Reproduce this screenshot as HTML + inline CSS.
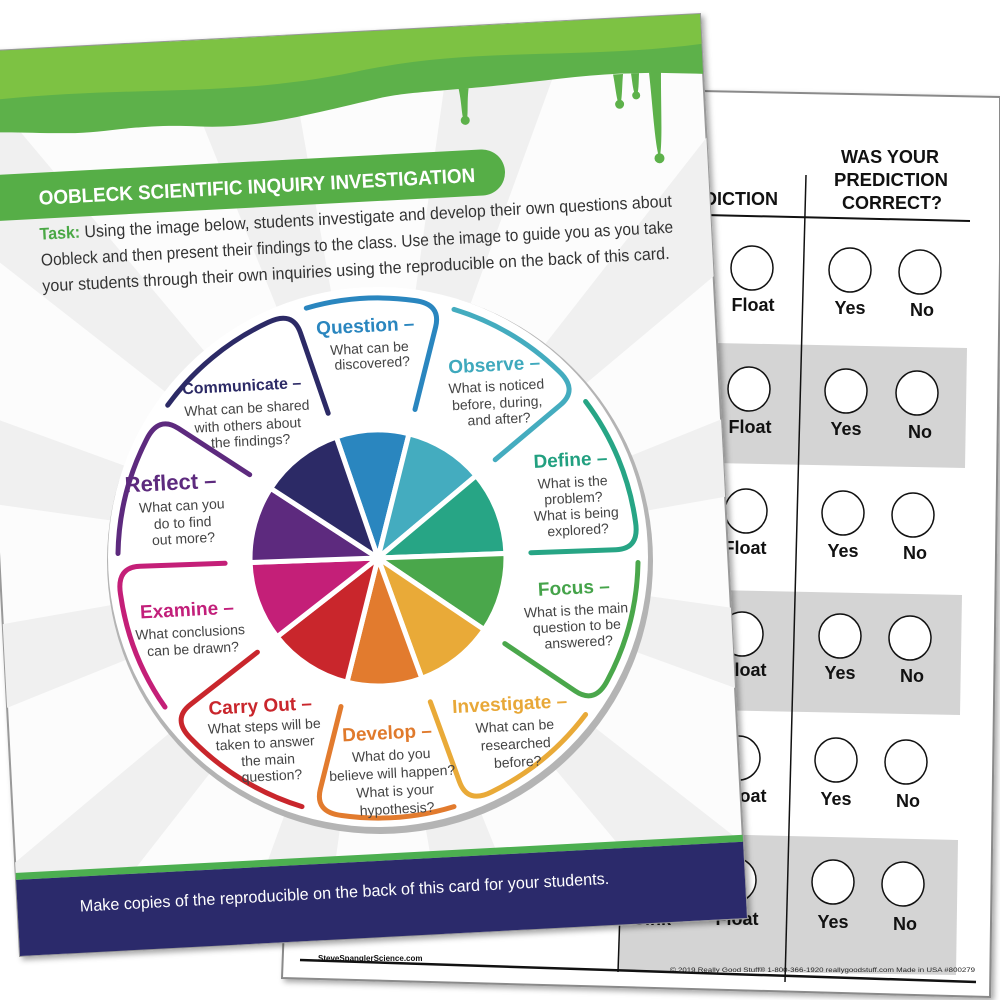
<!DOCTYPE html>
<html><head><meta charset="utf-8">
<style>
html,body{margin:0;padding:0;background:#fff;width:1000px;height:1000px;overflow:hidden;}
svg{display:block;}
text{font-family:"Liberation Sans",sans-serif;}
</style></head>
<body>
<svg id="s" width="1000" height="1000" viewBox="0 0 1000 1000" xmlns="http://www.w3.org/2000/svg">
<defs>
<clipPath id="cardclip"><polygon points="-27,52 700,14 747,918 20,956"/></clipPath>
<filter id="sh" x="-10%" y="-10%" width="120%" height="120%"><feDropShadow dx="3" dy="3" stdDeviation="3" flood-color="#000" flood-opacity="0.35"/></filter>
</defs>

<!-- back card -->
<polygon points="700,91 1000,97 1000,260 990,997 282,978 300,500" fill="#fff" stroke="#8a8a8a" stroke-width="2" filter="url(#sh)"/>
<g fill="#d4d4d4">
<polygon points="715,343 967,348 965,468 713,463"/>
<polygon points="710,590 962,595 960,715 708,710"/>
<polygon points="620,832 958,840 956,975 618,970"/>
</g>
<g font-weight="bold" fill="#111" font-size="18" text-anchor="middle">
<text x="890" y="163" textLength="98" lengthAdjust="spacingAndGlyphs">WAS YOUR</text>
<text x="891" y="186" textLength="114" lengthAdjust="spacingAndGlyphs">PREDICTION</text>
<text x="892" y="209" textLength="100" lengthAdjust="spacingAndGlyphs">CORRECT?</text>
<text x="741" y="205" textLength="74" lengthAdjust="spacingAndGlyphs">DICTION</text>
</g>
<line x1="705" y1="215" x2="970" y2="221" stroke="#111" stroke-width="2"/>
<line x1="806" y1="175" x2="785" y2="982" stroke="#111" stroke-width="1.5"/>
<line x1="620" y1="912" x2="618" y2="972" stroke="#111" stroke-width="1.5"/>
<line x1="300" y1="960" x2="976" y2="982" stroke="#111" stroke-width="2.5"/>
<g fill="#fff" stroke="#111" stroke-width="1.5">
<ellipse cx="752" cy="268" rx="21" ry="22"/><ellipse cx="850" cy="270" rx="21" ry="22"/><ellipse cx="920" cy="272" rx="21" ry="22"/>
<ellipse cx="749" cy="389" rx="21" ry="22"/><ellipse cx="846" cy="391" rx="21" ry="22"/><ellipse cx="917" cy="393" rx="21" ry="22"/>
<ellipse cx="746" cy="511" rx="21" ry="22"/><ellipse cx="843" cy="513" rx="21" ry="22"/><ellipse cx="913" cy="515" rx="21" ry="22"/>
<ellipse cx="742" cy="634" rx="21" ry="22"/><ellipse cx="840" cy="636" rx="21" ry="22"/><ellipse cx="910" cy="638" rx="21" ry="22"/>
<ellipse cx="739" cy="758" rx="21" ry="22"/><ellipse cx="836" cy="760" rx="21" ry="22"/><ellipse cx="906" cy="762" rx="21" ry="22"/>
<ellipse cx="735" cy="880" rx="21" ry="22"/><ellipse cx="833" cy="882" rx="21" ry="22"/><ellipse cx="903" cy="884" rx="21" ry="22"/>
</g>
<g fill="#111" font-size="18" font-weight="bold" text-anchor="middle">
<text x="753" y="311">Float</text><text x="850" y="314">Yes</text><text x="922" y="316">No</text>
<text x="750" y="433">Float</text><text x="846" y="435">Yes</text><text x="920" y="438">No</text>
<text x="745" y="554">Float</text><text x="843" y="557">Yes</text><text x="915" y="559">No</text>
<text x="745" y="676">Float</text><text x="840" y="679">Yes</text><text x="912" y="682">No</text>
<text x="745" y="802">Float</text><text x="836" y="805">Yes</text><text x="908" y="807">No</text>
<text x="737" y="925">Float</text><text x="833" y="928">Yes</text><text x="905" y="930">No</text>
<text x="652" y="925">Sink</text>
</g>
<text x="318" y="961" font-size="8" font-weight="bold" fill="#111">SteveSpanglerScience.com</text>
<text x="670" y="972" font-size="6.5" fill="#222" textLength="305" lengthAdjust="spacingAndGlyphs">© 2019 Really Good Stuff®  1-800-366-1920  reallygoodstuff.com  Made in USA  #800279</text>

<!-- front card -->
<polygon points="-27,52 700,14 747,918 20,956" fill="#fcfcfc" stroke="#999" stroke-width="2" filter="url(#sh)"/>
<g clip-path="url(#cardclip)">
<g id="rays" fill="#f0f0f0"></g>
<g transform="translate(-27,52) rotate(-3)">
<path d="M0,0 H728 V60 C700,58 680,56 660,56 C620,54 580,58 540,60 C470,64 430,62 400,68 C330,80 280,92 220,86 C160,80 130,88 90,86 C50,84 20,80 0,82 Z" fill="#5db14a"/>
<path d="M0,0 H728 V30 C600,40 500,20 380,40 C250,60 150,40 0,50 Z" fill="#7dc243"/>
<path d="M483,62 C486,80 484,92 488,96 C492,92 490,80 493,62 Z" fill="#5db14a"/>
<circle cx="488" cy="94" r="4.5" fill="#5db14a"/>
<path d="M638,56 C640,70 640,82 643,88 C646,82 646,70 648,56 Z" fill="#5db14a"/>
<circle cx="643" cy="86" r="4.5" fill="#5db14a"/>
<path d="M656,56 C657,66 657,74 660,80 C663,74 663,66 664,56 Z" fill="#5db14a"/>
<circle cx="660" cy="78" r="4" fill="#5db14a"/>
<path d="M674,56 C676,90 676,130 680,142 C684,130 684,90 686,56 Z" fill="#5db14a"/>
<circle cx="680" cy="142" r="5" fill="#5db14a"/>
<rect x="-20" y="124" width="545" height="46" rx="23" fill="#56ae47"/>
<text x="58" y="156" font-size="20" font-weight="bold" fill="#fff" textLength="437" lengthAdjust="spacingAndGlyphs">OOBLECK SCIENTIFIC INQUIRY INVESTIGATION</text>
<g font-size="17" fill="#333">
<text x="57" y="191" textLength="633" lengthAdjust="spacingAndGlyphs"><tspan fill="#4aa845" font-weight="bold">Task:</tspan> Using the image below, students investigate and develop their own questions about</text>
<text x="57" y="217" textLength="633" lengthAdjust="spacingAndGlyphs">Oobleck and then present their findings to the class. Use the image to guide you as you take</text>
<text x="57" y="243" textLength="628" lengthAdjust="spacingAndGlyphs">your students through their own inquiries using the reproducible on the back of this card.</text>
</g>
<rect x="-10" y="822" width="760" height="7" fill="#4caf50"/>
<rect x="-10" y="829" width="760" height="90" fill="#2b2a6b"/>
<text x="62" y="864" font-size="16.5" fill="#fff" textLength="530" lengthAdjust="spacingAndGlyphs">Make copies of the reproducible on the back of this card for your students.</text>
</g>
</g>

<!-- wheel -->
<circle cx="380" cy="561" r="273" fill="#b4b4b4"/>
<circle cx="378" cy="557" r="270" fill="#fff"/>
<g id="pie"></g>
<g id="brackets" fill="none" stroke-width="5" stroke-linecap="round" stroke-linejoin="round"></g>

<g font-size="14" fill="#444" text-anchor="middle">
<g transform="rotate(-3 368 340)">
<text x="366" y="332" font-size="19" font-weight="bold" fill="#2a86bf">Question –</text>
<text x="369" y="353">What can be</text><text x="371" y="368">discovered?</text></g>
<g transform="rotate(-3 495 380)">
<text x="495" y="371" font-size="19" font-weight="bold" fill="#3fa9bd">Observe –</text>
<text x="496" y="391">What is noticed</text><text x="496" y="408">before, during,</text><text x="497" y="424">and after?</text></g>
<g transform="rotate(-3 572 490)">
<text x="572" y="466" font-size="19" font-weight="bold" fill="#22a080">Define –</text>
<text x="573" y="487">What is the</text><text x="573" y="503">problem?</text><text x="575" y="519">What is being</text><text x="576" y="535">explored?</text></g>
<g transform="rotate(-3 575 610)">
<text x="575" y="594" font-size="19" font-weight="bold" fill="#45a34a">Focus –</text>
<text x="576" y="615">What is the main</text><text x="576" y="631">question to be</text><text x="577" y="647">answered?</text></g>
<g transform="rotate(-3 512 730)">
<text x="511" y="710" font-size="19" font-weight="bold" fill="#e8a838">Investigate –</text>
<text x="515" y="731">What can be</text><text x="515" y="749">researched</text><text x="516" y="767">before?</text></g>
<g transform="rotate(-3 390 770)">
<text x="389" y="739" font-size="19" font-weight="bold" fill="#e07a2c">Develop –</text>
<text x="392" y="760">What do you</text><text x="392" y="778">believe will happen?</text><text x="394" y="796">What is your</text><text x="395" y="814">hypothesis?</text></g>
<g transform="rotate(-3 262 740)">
<text x="262" y="712" font-size="19" font-weight="bold" fill="#c9262c">Carry Out –</text>
<text x="265" y="731">What steps will be</text><text x="265" y="748">taken to answer</text><text x="267" y="765">the main</text><text x="270" y="781">question?</text></g>
<g transform="rotate(-3 188 630)">
<text x="188" y="616" font-size="19" font-weight="bold" fill="#c21f7a">Examine –</text>
<text x="190" y="637">What conclusions</text><text x="192" y="654">can be drawn?</text></g>
<g transform="rotate(-3 172 510)">
<text x="172" y="490" font-size="22" font-weight="bold" fill="#5d2a7e">Reflect –</text>
<text x="182" y="511">What can you</text><text x="182" y="528">do to find</text><text x="182" y="544">out more?</text></g>
<g transform="rotate(-3 244 410)">
<text x="243" y="391" font-size="16" font-weight="bold" fill="#2c2a66">Communicate –</text>
<text x="247" y="413">What can be shared</text><text x="247" y="430">with others about</text><text x="249" y="446">the findings?</text></g>
</g>
</svg>
<script>
(function(){
var NS="http://www.w3.org/2000/svg",cx=378,cy=558;
function P(a,r){var t=a*Math.PI/180;return [cx+r*Math.sin(t),cy-r*Math.cos(t)];}
function f(p){return p[0].toFixed(1)+","+p[1].toFixed(1);}
var rays=document.getElementById("rays");
for(var i=0;i<12;i++){var a=i*30+8,b=a+12;
var pa=P(a,1100),pb=P(b,1100);var e=document.createElementNS(NS,"path");
e.setAttribute("d","M"+cx+","+cy+" L"+f(pa)+" L"+f(pb)+" Z");rays.appendChild(e);}
var B=[-19,14,50,88,124,160,194,232,268,303,341];
var C=["#2a86bf","#44acbf","#27a585","#4aa74b","#e9aa38","#e27b2e","#c9262c","#c41f78","#5d2a7e","#2c2a66"];
var pie=document.getElementById("pie"),br=document.getElementById("brackets");
for(var i=0;i<10;i++){
 var a1=B[i],a2=B[i+1],R=128;
 var p=document.createElementNS(NS,"path");
 p.setAttribute("d","M"+cx+","+cy+" L"+f(P(a1,R))+" A"+R+","+R+" 0 0 1 "+f(P(a2,R))+" Z");
 p.setAttribute("fill",C[i]);p.setAttribute("stroke","#fff");p.setAttribute("stroke-width","5");pie.appendChild(p);
 var RO=260,s=a1+3,e2=a2;
 var q=document.createElementNS(NS,"path");
 q.setAttribute("d","M"+f(P(s,RO))+" A"+RO+","+RO+" 0 0 1 "+f(P(e2-6,RO))+" Q"+f(P(e2,RO+2))+" "+f(P(e2,RO-22))+" L"+f(P(e2,153)));
 q.setAttribute("stroke",C[i]);br.appendChild(q);
}
})();
</script>
</body></html>
